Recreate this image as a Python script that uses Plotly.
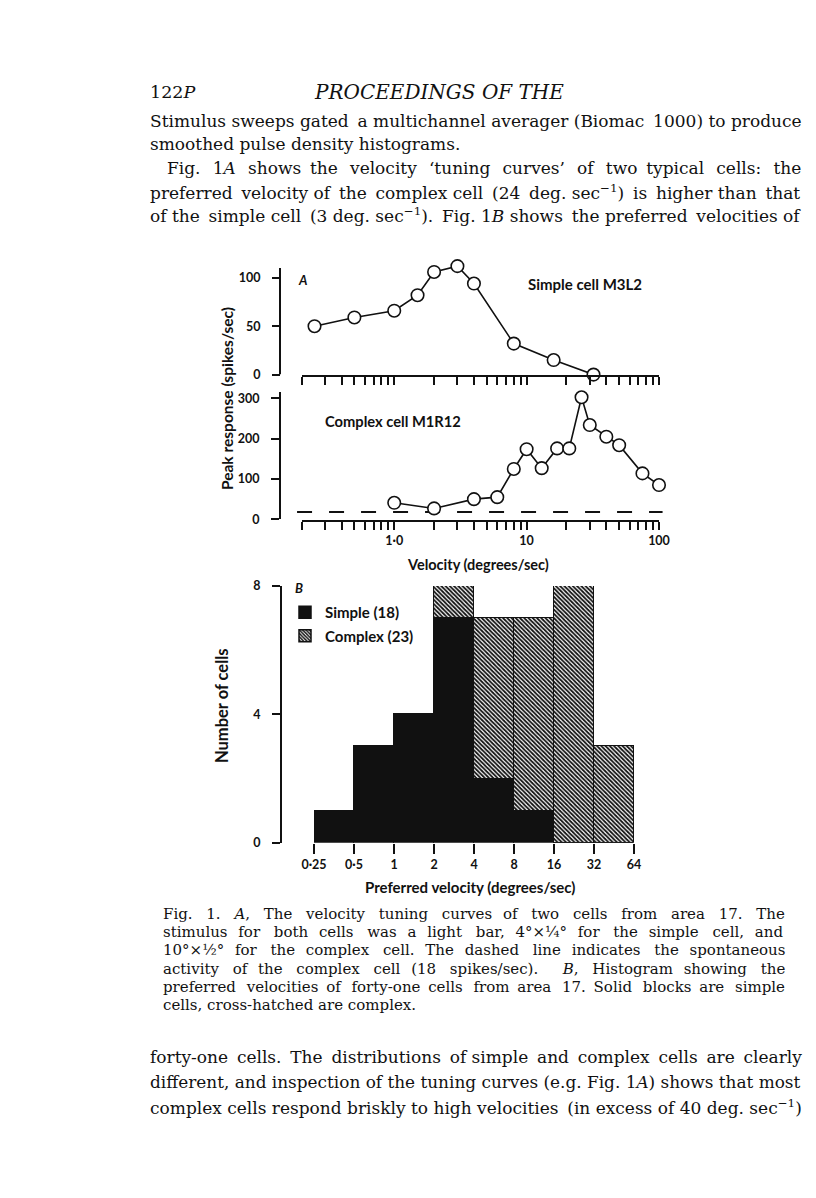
import numpy as np
import plotly.graph_objects as go

# The page body keeps an 8px margin, so the figure is drawn 8px in and
# 16px smaller; X()/Y() convert page pixels to paper fractions.
OFF = 8
W, H = 816 - 2 * OFF, 1198 - 2 * OFF


def X(px):
    return (px - OFF) / W


def Y(py):
    return 1 - (py - OFF) / H


# ---------------- data ----------------
simple_vel = [0.25, 0.5, 1, 1.5, 2, 3, 4, 8, 16, 32]
simple_resp = [50, 59, 66, 82, 106, 112, 94, 32, 15, 0]

complex_vel = [1, 2, 4, 6, 8, 10, 13, 17, 21, 26, 30, 40, 50, 75, 100]
complex_resp = [41, 27, 50, 55, 125, 174, 127, 176, 176, 303, 234, 205, 184, 114, 85]
complex_spont = 18

bin_lower = [0.25, 0.5, 1, 2, 4, 8, 16, 32]
bin_labels = ["0·25", "0·5", "1", "2", "4", "8", "16", "32", "64"]
simple_counts = [1, 3, 4, 7, 2, 1, 0, 0]
complex_counts = [0, 0, 0, 1, 5, 6, 8, 3]

simple_ticks = [0, 50, 100]
complex_ticks = [0, 100, 200, 300]
hist_ticks = [0, 4, 8]

major_vel = [1, 10, 100]
major_vel_text = ["1·0", "10", "100"]
all_log_ticks = [m * 10 ** e for e in (-1, 0, 1) for m in range(1, 10) if m * 10 ** e >= 0.2 - 1e-9] + [100]
minor_log_ticks = [v for v in all_log_ticks if round(v, 6) not in major_vel]

SANS = "Lato"
SERIF = "DejaVu Serif"
BLACK = "#111111"
TICKFONT = dict(family=SANS, size=12.5, color=BLACK, weight="bold")

fig = go.Figure()

# ---- panel A top: simple cell ----
fig.add_trace(go.Scatter(
    x=simple_vel, y=simple_resp, xaxis="x", yaxis="y", mode="lines+markers",
    line=dict(color=BLACK, width=1.6),
    marker=dict(size=12.5, color="white", line=dict(color=BLACK, width=1.6)),
    cliponaxis=False, showlegend=False))

# ---- panel A bottom: complex cell ----
fig.add_trace(go.Scatter(
    x=complex_vel, y=complex_resp, xaxis="x2", yaxis="y2", mode="lines+markers",
    line=dict(color=BLACK, width=1.6),
    marker=dict(size=12.5, color="white", line=dict(color=BLACK, width=1.6)),
    cliponaxis=False, showlegend=False))

# ---- panel B histogram ----
centers = list(np.log2(bin_lower) + 0.5)
fig.add_trace(go.Bar(
    x=centers, y=simple_counts, width=1, xaxis="x3", yaxis="y3",
    name="Simple (18)", legendgroup="s",
    marker=dict(color=BLACK, line=dict(color=BLACK, width=1.5))))
fig.add_trace(go.Bar(
    x=centers, y=complex_counts, width=1, xaxis="x3", yaxis="y3",
    name="Complex (23)", legendgroup="c",
    marker=dict(color="white", line=dict(color=BLACK, width=1.5),
                pattern=dict(shape="\\", size=3, solidity=0.6,
                             fgcolor=BLACK, bgcolor="white", fillmode="replace"))))

axis_common = dict(showline=True, linecolor=BLACK, linewidth=2, ticks="outside",
                   tickcolor=BLACK, tickwidth=2, showgrid=False, zeroline=False,
                   tickfont=TICKFONT)

xa_dom = [X(301.7), X(659)]
fig.update_layout(
    width=W, height=H, margin=dict(l=0, r=0, t=0, b=0, pad=0, autoexpand=False),
    paper_bgcolor="white", plot_bgcolor="rgba(0,0,0,0)",
    font=dict(family=SANS, color=BLACK, size=14, weight="bold"),
    barmode="stack", bargap=0,
    xaxis=dict(axis_common, domain=xa_dom, type="log", range=[np.log10(0.2), 2],
               anchor="free", position=Y(375.5), tickvals=all_log_ticks,
               showticklabels=False, ticklen=8),
    yaxis=dict(axis_common, domain=[Y(374.6), Y(374.3 - 120 * 0.966)], range=[0, 120],
               anchor="free", position=X(280), tickvals=simple_ticks, ticklen=8,
               ticklabelstandoff=9, showline=False),
    xaxis2=dict(axis_common, domain=xa_dom, type="log", range=[np.log10(0.2), 2],
                anchor="free", position=Y(520.5), tickvals=major_vel,
                ticktext=major_vel_text, ticklen=8,
                minor=dict(tickvals=minor_log_ticks, ticks="outside", ticklen=8,
                           tickwidth=2, tickcolor=BLACK, showgrid=False)),
    yaxis2=dict(axis_common, domain=[Y(519.3), Y(392)], range=[0, 316],
                anchor="free", position=X(280), tickvals=complex_ticks, ticklen=8,
                ticklabelstandoff=9),
    xaxis3=dict(axis_common, domain=[X(314), X(634)], range=[-2, 6],
                anchor="free", position=Y(843), tickvals=list(range(-2, 7)),
                ticktext=bin_labels, ticklen=10, showline=False),
    yaxis3=dict(axis_common, domain=[Y(842.7), Y(586)], range=[0, 8],
                anchor="free", position=X(281), tickvals=hist_ticks, ticklen=8,
                ticklabelstandoff=9),
    legend=dict(x=X(285), y=Y(596), xanchor="left", yanchor="top",
                bgcolor="rgba(0,0,0,0)", traceorder="grouped", tracegroupgap=1,
                font=dict(family=SANS, size=15, color=BLACK, weight="bold")),
)

# simple-cell y axis line (0 .. 110)
fig.add_shape(type="line", xref="paper", yref="y", x0=X(280), x1=X(280), y0=0, y1=110,
              line=dict(color=BLACK, width=2))

# spontaneous activity dashed line
fig.add_shape(type="line", xref="x2 domain", yref="y2", x0=-0.013, x1=1.01,
              y0=complex_spont, y1=complex_spont,
              line=dict(color=BLACK, width=2, dash="15px,17px"), layer="below")

ann = []


def sans(x, y, text, size=14, xanchor="left", angle=0):
    ann.append(dict(x=X(x), y=Y(y), xref="paper", yref="paper", text=text,
                    showarrow=False, xanchor=xanchor, yanchor="middle", textangle=angle,
                    font=dict(family=SANS, size=size, color=BLACK, weight="bold")))


sans(296, 280, "<i>A</i>", 13)
sans(526, 284, "Simple cell M3L2", 15)
sans(323, 421, "Complex cell M1R12", 14.7)
sans(478, 564, "Velocity (degrees/sec)", 14.5, "center")
sans(227, 399, "Peak response (spikes/sec)", 15.5, "center", -90)
sans(293, 588, "<i>B</i>", 13)
sans(222, 706, "Number of cells", 16.5, "center", -90)
sans(470, 887, "Preferred velocity (degrees/sec)", 15, "center")


def justify(text, natural, target, size):
    """Spread the word gaps with thin spaces so the line reaches `target` px."""
    extra = target - natural
    parts = text.split(" ")
    gaps = len(parts) - 1
    if extra <= 0 or gaps <= 0:
        return text
    unit = 0.2 * size
    total = int(round(extra / unit))
    out = parts[0]
    for i in range(gaps):
        n = int(round((i + 1) * total / gaps)) - int(round(i * total / gaps))
        out += " " + "\u2009" * n + parts[i + 1]
    return out


def serif(x, y, text, size=17, xanchor="left"):
    ann.append(dict(x=X(x), y=Y(y), xref="paper", yref="paper", text=text,
                    showarrow=False, xanchor=xanchor, yanchor="middle",
                    font=dict(family=SERIF, size=size, color=BLACK, weight="normal")))


serif(148, 92, "122<i>P</i>", 17.5)
serif(439, 92, "<i>PROCEEDINGS OF THE</i>", 20, "center")

BODY = 17
# (x, text, natural width at font size, target width, size)
body_top = [
    (148, "Stimulus sweeps gated a multichannel averager (Biomac 1000) to produce", 643, 650, BODY),
    (148, "smoothed pulse density histograms.", 0, 0, BODY),
    (165, "Fig. 1<i>A</i> shows the velocity ‘tuning curves’ of two typical cells: the", 566, 633, BODY),
    (148, "preferred velocity of the complex cell (24 deg. sec<sup>−1</sup>) is higher than that", 622, 650, BODY),
    (148, "of the simple cell (3 deg. sec<sup>−1</sup>). Fig. 1<i>B</i> shows the preferred velocities of", 632, 650, BODY),
]
for i, (x0, t, nat, tgt, sz) in enumerate(body_top):
    serif(x0, 121 + 23.5 * i, justify(t, nat, tgt, sz), sz)

CAP = 15
caption = [
    ("Fig. 1. <i>A</i>, The velocity tuning curves of two cells from area 17. The", 507, 621),
    ("stimulus for both cells was a light bar, 4°×¼° for the simple cell, and", 528, 621),
    ("10°×½° for the complex cell. The dashed line indicates the spontaneous", 549, 621),
    ("activity of the complex cell (18 spikes/sec).  <i>B</i>, Histogram showing the", 535, 621),
    ("preferred velocities of forty-one cells from area 17. Solid blocks are simple", 570, 621),
    ("cells, cross-hatched are complex.", 0, 0),
]
for i, (t, nat, tgt) in enumerate(caption):
    serif(161, 914 + 18.2 * i, justify(t, nat, tgt, CAP), CAP)

body_bottom = [
    ("forty-one cells. The distributions of simple and complex cells are clearly", 620, 650, BODY),
    ("different, and inspection of the tuning curves (e.g. Fig. 1<i>A</i>) shows that most", 0, 0, 16.9),
    ("complex cells respond briskly to high velocities (in excess of 40 deg. sec<sup>−1</sup>)", 648, 650, BODY),
]
for i, (t, nat, tgt, sz) in enumerate(body_bottom):
    serif(148, 1057 + 25 * i, justify(t, nat, tgt, sz), sz)

fig.update_layout(annotations=ann)
fig.write_html("out.html")
